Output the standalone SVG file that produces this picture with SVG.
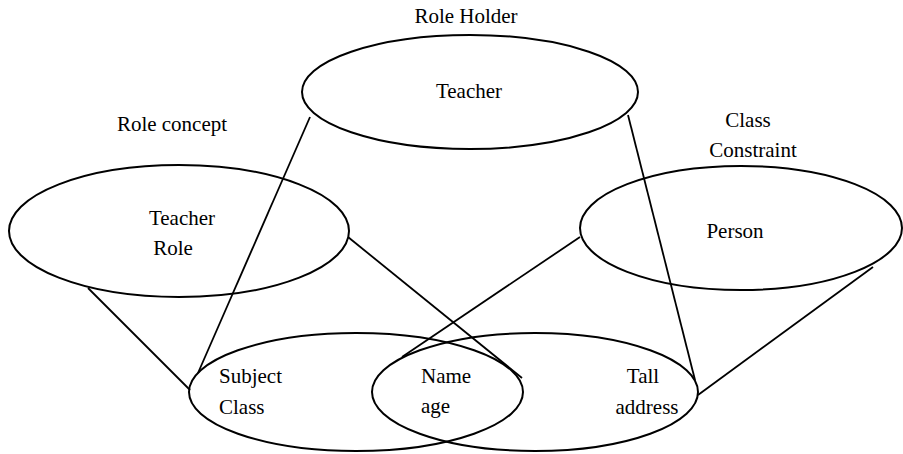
<svg xmlns="http://www.w3.org/2000/svg" width="903" height="454" viewBox="0 0 903 454">
<style>
.n{fill:none;stroke:#000;stroke-width:2}
.c{stroke:#000;stroke-width:1.8;fill:none}
text{font-family:"Liberation Serif","Times New Roman",serif;font-size:21px;fill:#000}
.m{text-anchor:middle}
</style>
<rect width="903" height="454" fill="#fff"/>
<g id="connectors">
<line class="c" x1="310" y1="117" x2="198" y2="373"/>
<line class="c" x1="628" y1="115" x2="695" y2="380"/>
<line class="c" x1="88" y1="288" x2="190" y2="390"/>
<line class="c" x1="348" y1="237" x2="522" y2="378"/>
<line class="c" x1="580" y1="237" x2="402" y2="357"/>
<line class="c" x1="873" y1="267" x2="698" y2="395"/>
</g>
<g id="role-holder">
<text class="m" x="466" y="23">Role Holder</text>
<ellipse class="n" cx="470" cy="92" rx="168" ry="57"/>
<text class="m" x="469" y="98">Teacher</text>
</g>
<g id="role-concept">
<text class="m" x="172" y="131">Role concept</text>
<ellipse class="n" cx="179" cy="231" rx="170" ry="66"/>
<text class="m" x="182" y="225">Teacher</text>
<text class="m" x="173" y="255">Role</text>
</g>
<g id="class-constraint">
<text class="m" x="748" y="127">Class</text>
<text class="m" x="753" y="157">Constraint</text>
<ellipse class="n" cx="741" cy="228" rx="161" ry="62"/>
<text class="m" x="735" y="238">Person</text>
</g>
<g id="subject-class">
<ellipse class="n" cx="356" cy="392" rx="167" ry="59"/>
<text x="219" y="383">Subject</text>
<text x="219" y="414">Class</text>
</g>
<g id="tall-address">
<ellipse class="n" cx="535" cy="392" rx="163" ry="59"/>
<text class="m" x="643" y="383">Tall</text>
<text class="m" x="647" y="414">address</text>
</g>
<g id="name-age">
<text x="421" y="383">Name</text>
<text x="421" y="413">age</text>
</g>
</svg>
